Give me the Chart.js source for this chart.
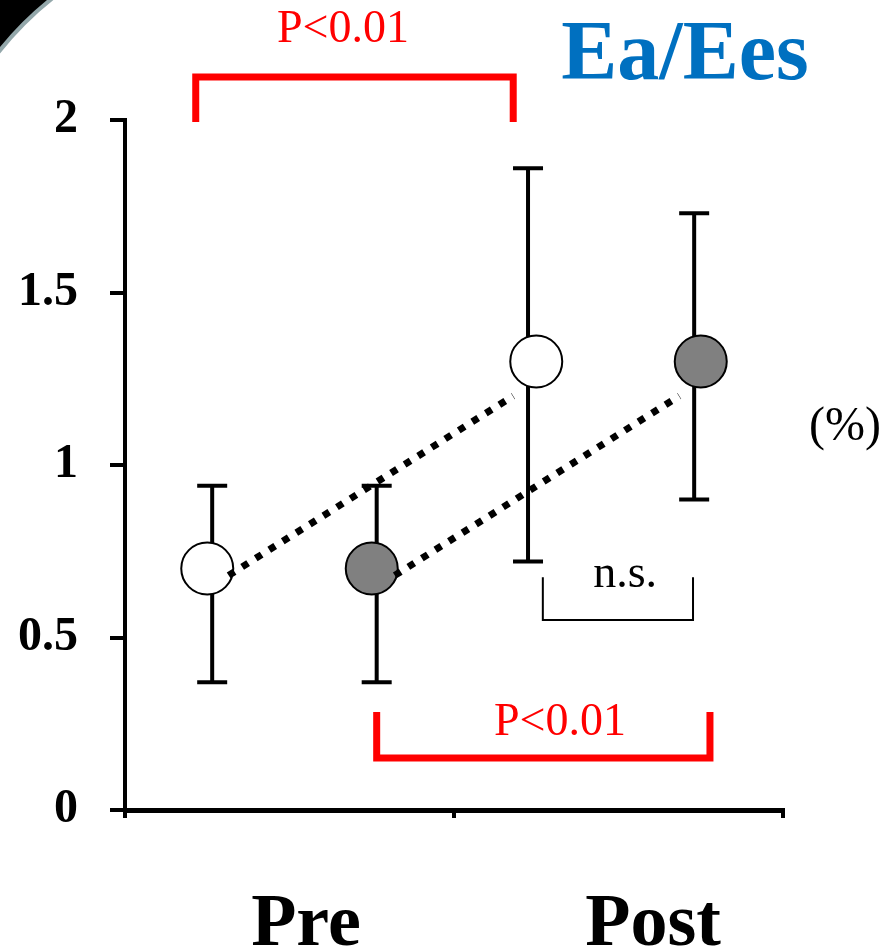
<!DOCTYPE html>
<html lang="en">
<head>
<meta charset="UTF-8">
<title>Ea/Ees</title>
<script src="https://cdn.jsdelivr.net/npm/chart.js"></script>
<style>
    * { margin: 0; padding: 0; box-sizing: border-box; }
    body { background: #fff; width: 884px; height: 951px; overflow: hidden; }
    .wrap { position: relative; width: 884px; height: 951px; }
</style>
</head>
<body>
<div class="wrap"><canvas id="eaChart" width="884" height="951"></canvas></div>
<script>
// values (x is a plain 0..4 scale, y in %)
const groups = ['Pre', 'Post'];
const groupX = [1.1, 3.21];

const openX = [0.5, 2.5];
const openMean = [0.70, 1.30];
const openHi = [0.94, 1.86];
const openLo = [0.37, 0.72];
const openBarX = [0.53, 2.45];

const grayX = [1.5, 3.5];
const grayMean = [0.70, 1.30];
const grayHi = [0.94, 1.73];
const grayLo = [0.37, 0.90];
const grayBarX = [1.53, 3.46];

// dotted connectors
const openLineX = [0.63, 2.36];
const openLineY = [0.68, 1.20];
const grayLineX = [1.64, 3.37];
const grayLineY = [0.68, 1.20];

const yTicks = [0, 0.5, 1, 1.5, 2];
const xTicks = [0, 2, 4];

const SERIF = '"Liberation Serif", "Times New Roman", serif';

// significance brackets (x0, x1, bar y, leg end y, label)
const brackets = [
    { x0: 0.43, x1: 2.36, yBar: 2.125, yEnd: 1.994, text: 'P<0.01', tx: 1.325, ty: 2.226, color: '#ff0000', lw: 7, font: '46px ' + SERIF },
    { x0: 1.53, x1: 3.556, yBar: 0.151, yEnd: 0.284, text: 'P<0.01', tx: 2.644, ty: 0.217, color: '#ff0000', lw: 7, font: '46px ' + SERIF },
    { x0: 2.54, x1: 3.453, yBar: 0.551, yEnd: 0.675, text: 'n.s.', tx: 3.04, ty: 0.646, color: '#000000', lw: 2, font: '46px ' + SERIF }
];

function pts(xs, ys) {
    return xs.map((x, i) => ({ x: x, y: ys[i] }));
}

// error bars go behind the circles
const errorBars = {
    id: 'errorBars',
    beforeDatasetsDraw(chart) {
        const ctx = chart.ctx, xs = chart.scales.x, ys = chart.scales.y;
        ctx.save();
        ctx.strokeStyle = '#000';
        ctx.lineWidth = 4;
        const sets = [[openBarX, openHi, openLo], [grayBarX, grayHi, grayLo]];
        sets.forEach(([bx, hi, lo]) => {
            bx.forEach((x, i) => {
                const px = xs.getPixelForValue(x);
                const top = ys.getPixelForValue(hi[i]);
                const bot = ys.getPixelForValue(lo[i]);
                ctx.beginPath();
                ctx.moveTo(px, top); ctx.lineTo(px, bot);
                ctx.moveTo(px - 15, top); ctx.lineTo(px + 15, top);
                ctx.moveTo(px - 15, bot); ctx.lineTo(px + 15, bot);
                ctx.stroke();
            });
        });
        ctx.restore();
    }
};

const extras = {
    id: 'extras',
    beforeDraw(chart) {
        // rounded slide frame peeking in the top-left corner
        const ctx = chart.ctx;
        ctx.save();
        ctx.beginPath();
        ctx.rect(0, 0, 70, 70);
        ctx.clip();
        ctx.fillStyle = '#000';
        ctx.fillRect(0, 0, 70, 70);
        ctx.beginPath();
        ctx.arc(250, 250, 320, 0, Math.PI * 2);
        ctx.fillStyle = '#fff';
        ctx.fill();
        ctx.strokeStyle = '#93a7aa';
        ctx.lineWidth = 4;
        ctx.stroke();
        ctx.restore();
    },
    afterDraw(chart) {
        const ctx = chart.ctx, xs = chart.scales.x, ys = chart.scales.y;
        ctx.save();
        brackets.forEach(b => {
            const x0 = xs.getPixelForValue(b.x0), x1 = xs.getPixelForValue(b.x1);
            const yb = ys.getPixelForValue(b.yBar), ye = ys.getPixelForValue(b.yEnd);
            ctx.strokeStyle = b.color;
            ctx.lineWidth = b.lw;
            ctx.lineJoin = 'miter';
            ctx.beginPath();
            ctx.moveTo(x0, ye); ctx.lineTo(x0, yb); ctx.lineTo(x1, yb); ctx.lineTo(x1, ye);
            ctx.stroke();
            ctx.fillStyle = b.color;
            ctx.font = b.font;
            ctx.textAlign = 'center';
            ctx.textBaseline = 'alphabetic';
            ctx.fillText(b.text, xs.getPixelForValue(b.tx), ys.getPixelForValue(b.ty));
        });

        // group labels under the axis
        ctx.fillStyle = '#000';
        ctx.font = 'bold 74px ' + SERIF;
        ctx.textAlign = 'center';
        groups.forEach((g, i) => {
            ctx.fillText(g, xs.getPixelForValue(groupX[i]), 945);
        });

        // title and unit
        ctx.fillStyle = '#0070c0';
        ctx.font = 'bold 84px ' + SERIF;
        ctx.fillText('Ea/Ees', 685, 79);
        ctx.fillStyle = '#000';
        ctx.font = '48px ' + SERIF;
        ctx.fillText('(%)', 845, 440);
        ctx.restore();
    }
};

const dotted = {
    showLine: true, order: 0,
    borderColor: '#000', borderWidth: 7, borderDash: [7, 9], borderCapStyle: 'butt',
    pointRadius: 0
};

const ctx = document.getElementById('eaChart').getContext('2d');
new Chart(ctx, {
    type: 'scatter',
    data: {
        datasets: [
            Object.assign({ data: pts(openLineX, openLineY) }, dotted),
            Object.assign({ data: pts(grayLineX, grayLineY) }, dotted),
            {
                data: pts(openX, openMean), order: 1,
                pointRadius: 26, pointBackgroundColor: '#ffffff',
                pointBorderColor: '#000', pointBorderWidth: 2
            },
            {
                data: pts(grayX, grayMean), order: 1,
                pointRadius: 26, pointBackgroundColor: '#808080',
                pointBorderColor: '#000', pointBorderWidth: 2
            }
        ]
    },
    options: {
        responsive: false,
        animation: false,
        events: [],
        layout: { padding: { left: 0, top: 120, right: 101, bottom: 131 } },
        plugins: { legend: { display: false }, tooltip: { enabled: false } },
        scales: {
            x: {
                type: 'linear', min: 0, max: 4,
                afterBuildTicks: s => { s.ticks = xTicks.map(v => ({ value: v })); },
                ticks: { display: false },
                grid: { drawOnChartArea: false, tickLength: 8, lineWidth: 4, color: '#000' },
                border: { width: 5, color: '#000' },
                afterFit: s => { s.height = 10; }
            },
            y: {
                min: 0, max: 2,
                afterBuildTicks: s => { s.ticks = yTicks.map(v => ({ value: v })); },
                ticks: {
                    color: '#000', padding: 32,
                    font: { family: SERIF, size: 48, weight: 'bold' },
                    callback: v => String(v)
                },
                grid: { drawOnChartArea: false, tickLength: 15, lineWidth: 4, color: '#000' },
                border: { width: 4, color: '#000' },
                afterFit: s => { s.width = 125; }
            }
        }
    },
    plugins: [errorBars, extras]
});
</script>
</body>
</html>
